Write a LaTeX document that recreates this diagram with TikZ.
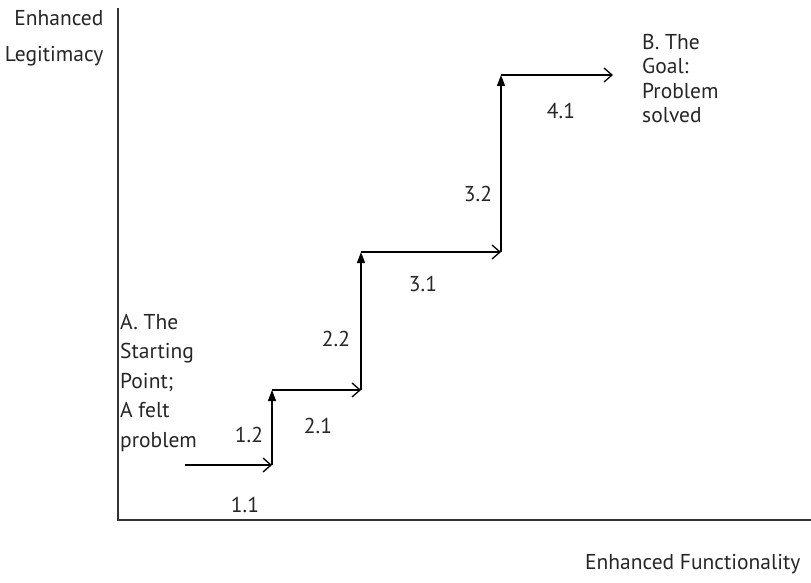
\documentclass[tikz,border=0pt]{standalone}
\usepackage{fontspec}
\setmainfont{PT Sans}
\usetikzlibrary{arrows.meta}

\begin{document}
\begin{tikzpicture}[x=1pt, y=-1pt,
  hstep/.style={line width=1.3pt, -{Straight Barb[length=8pt, width=14pt, line width=1.3pt]}},
  vstep/.style={line width=1.3pt, -{Triangle[length=11pt, width=8pt]}},
  lbl/.style={font=\fontsize{21.5}{24}\selectfont, text=black!85},
  blk/.style={align=left, text=black!85, inner sep=0pt}]

  % Canvas
  \useasboundingbox (0,0) rectangle (811,583);

  % Parameters
  \def\xaxis{118}       % x-position of vertical axis
  \def\yaxis{520}       % y-position of horizontal axis

  % Axes
  \coordinate (top) at (\xaxis,8);
  \coordinate (orig) at (\xaxis,\yaxis);
  \coordinate (right) at (811,\yaxis);
  \draw[line width=1.2pt, black!80] (top) -- (orig) -- (right);

  % Corners of the staircase
  \coordinate (s0) at (185,465);
  \coordinate (s1) at (272,465);
  \coordinate (s2) at (272,390);
  \coordinate (s3) at (361,390);
  \coordinate (s4) at (361,252);
  \coordinate (s5) at (501,252);
  \coordinate (s6) at (501,75);
  \coordinate (s7) at (613,75);

  % Steps
  \draw[hstep] (s0) -- (s1);
  \draw[vstep] (s1) -- (s2);
  \draw[hstep] (s2) -- (s3);
  \draw[vstep] (s3) -- (s4);
  \draw[hstep] (s4) -- (s5);
  \draw[vstep] (s5) -- (s6);
  \draw[hstep] (s6) -- (s7);

  % Step labels
  \node[lbl] (l11) at (245,505) {1.1};
  \node[lbl] (l12) at (249,435) {1.2};
  \node[lbl] (l21) at (318,426) {2.1};
  \node[lbl] (l22) at (336,339) {2.2};
  \node[lbl] (l31) at (423,284) {3.1};
  \node[lbl] (l32) at (478,194) {3.2};
  \node[lbl] (l41) at (561,111) {4.1};

  % Axis titles
  \node[lbl, anchor=east] (enh) at (107,18) {Enhanced};
  \node[lbl, anchor=east] (leg) at (107,56) {Legitimacy};
  \node[lbl, anchor=east] (func) at (804,564) {Enhanced Functionality};

  % Start and goal (base = last line)
  \node[blk, anchor=base west, font=\fontsize{21.5}{29.5}\selectfont] (start) at (120,447)
    {A. The\\Starting\\Point;\\A felt\\problem};
  \node[blk, anchor=base west, font=\fontsize{21.5}{24.5}\selectfont] (goal) at (642,123)
    {B. The\\Goal:\\Problem\\solved};
\end{tikzpicture}
\end{document}
